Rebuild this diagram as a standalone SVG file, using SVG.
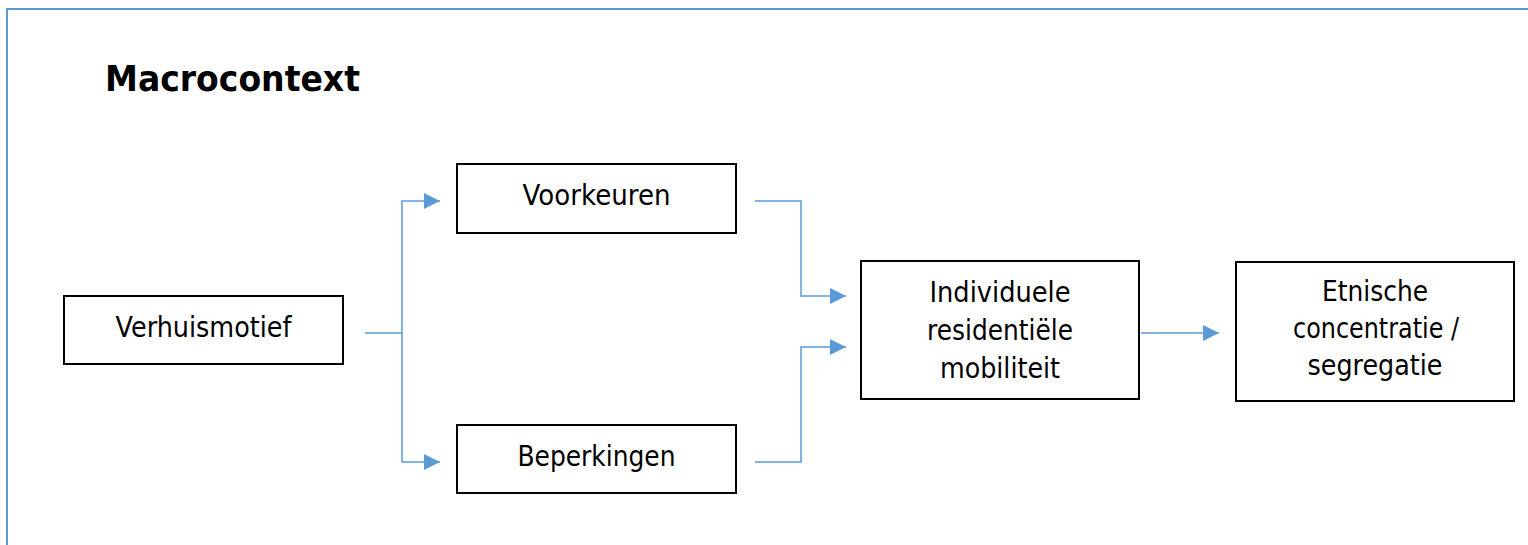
<svg xmlns="http://www.w3.org/2000/svg" width="1528" height="545" viewBox="0 0 1528 545">
<style>
.box{fill:#fff;stroke:#000;stroke-width:2}
.lbl{font-family:"DejaVu Sans",Verdana,sans-serif;font-size:28px;fill:#000;text-anchor:middle}
.title{font-family:"DejaVu Sans",Verdana,sans-serif;font-size:35px;font-weight:bold;fill:#000}
.conn{fill:none;stroke:#5b9bd5;stroke-width:1.5}
</style>
<defs>
<marker id="arr" viewBox="0 0 16 16" refX="16" refY="8" markerWidth="16" markerHeight="16" markerUnits="userSpaceOnUse" orient="auto">
<path d="M0,0 L16,8 L0,16 Z" fill="#5b9bd5"/>
</marker>
</defs>
<rect width="1528" height="545" fill="#fff"/>
<path d="M7,545 V9 H1528" fill="none" stroke="#5b9bd5" stroke-width="2"/>
<text class="title" x="105" y="91" textLength="255" lengthAdjust="spacingAndGlyphs">Macrocontext</text>
<g id="connectors">
<path class="conn" d="M365,333 H402 V201 H440" marker-end="url(#arr)"/>
<path class="conn" d="M402,333 V462 H440" marker-end="url(#arr)"/>
<path class="conn" d="M755,201 H801 V296 H846" marker-end="url(#arr)"/>
<path class="conn" d="M755,462 H801 V347 H846" marker-end="url(#arr)"/>
<path class="conn" d="M1141,333 H1219" marker-end="url(#arr)"/>
</g>
<g id="verhuismotief">
<rect class="box" x="64" y="296" width="279" height="68"/>
<text class="lbl" x="203.5" y="337" textLength="176" lengthAdjust="spacingAndGlyphs">Verhuismotief</text>
</g>
<g id="voorkeuren">
<rect class="box" x="457" y="164" width="279" height="69"/>
<text class="lbl" x="596.5" y="205" textLength="148" lengthAdjust="spacingAndGlyphs">Voorkeuren</text>
</g>
<g id="beperkingen">
<rect class="box" x="457" y="425" width="279" height="68"/>
<text class="lbl" x="596.5" y="466" textLength="158" lengthAdjust="spacingAndGlyphs">Beperkingen</text>
</g>
<g id="mobiliteit">
<rect class="box" x="861" y="261" width="278" height="138"/>
<text class="lbl" x="1000" y="302" textLength="141" lengthAdjust="spacingAndGlyphs">Individuele</text>
<text class="lbl" x="1000" y="340" textLength="146" lengthAdjust="spacingAndGlyphs">residentiële</text>
<text class="lbl" x="1000" y="378" textLength="120" lengthAdjust="spacingAndGlyphs">mobiliteit</text>
</g>
<g id="segregatie">
<rect class="box" x="1236" y="262" width="278" height="139"/>
<text class="lbl" x="1375" y="301" textLength="106" lengthAdjust="spacingAndGlyphs">Etnische</text>
<text class="lbl" x="1376" y="338" textLength="166" lengthAdjust="spacingAndGlyphs">concentratie /</text>
<text class="lbl" x="1375" y="375" textLength="135" lengthAdjust="spacingAndGlyphs">segregatie</text>
</g>
</svg>
